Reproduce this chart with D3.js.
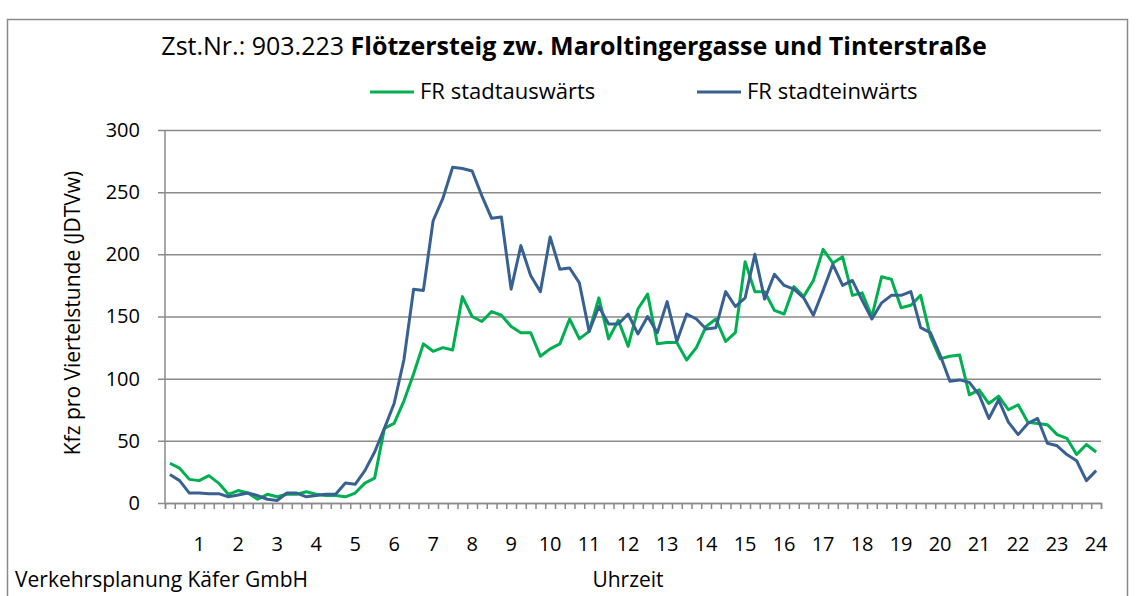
<!DOCTYPE html>
<html>
<head>
<meta charset="utf-8">
<script src="https://cdn.jsdelivr.net/npm/d3@7"></script>
<style>
  body { margin: 0; background: #fff; }
  svg { display: block; font-family: "Open Sans", sans-serif; }
</style>
</head>
<body>
<div id="chart"></div>
<script>
// quarter hours 1..96, labelled with the full hour every 4th slot
const hourLabels = d3.range(1, 25).map(String);
const yTicks = [0, 50, 100, 150, 200, 250, 300];

const stadtauswaerts = [
  32, 28, 19, 18, 22, 16, 7, 10, 8, 3,
  7, 5, 7, 7, 9, 7, 6, 6, 5, 8,
  16, 20, 60, 64, 82, 104, 128, 122, 125, 123,
  166, 150, 146, 154, 151, 142, 137, 137, 118, 124,
  128, 148, 132, 138, 165, 132, 147, 126, 156, 168,
  128, 129, 129, 115, 125, 142, 148, 130, 137, 194,
  170, 170, 155, 152, 174, 166, 179, 204, 193, 198,
  167, 169, 150, 182, 180, 157, 159, 167, 134, 116,
  118, 119, 87, 91, 80, 86, 75, 79, 65, 64,
  63, 55, 52, 39, 47, 41
];
const stadteinwaerts = [
  23, 18, 8, 8, 7.5, 7.5, 5, 6.5, 8, 6,
  3, 2, 8, 8, 5, 6, 7, 7, 16, 15,
  26, 41, 60, 80, 115, 172, 171, 227, 245, 270,
  269, 267, 247, 229, 230, 172, 207, 183, 170, 214,
  188, 189, 177, 138, 158, 144, 144, 152, 136, 150,
  137, 162, 130, 152, 148, 140, 141, 170, 158, 165,
  200, 164, 184, 175, 172, 165, 151, 171, 192, 175,
  179, 163, 148, 161, 167, 167, 170, 141, 137, 119,
  98, 99, 97, 87, 68, 83, 65, 55, 64, 68,
  48, 46, 39, 34, 18, 26
];

const series = [
  { name: 'FR stadtauswärts', values: stadtauswaerts, color: '#00B050' },
  { name: 'FR stadteinwärts', values: stadteinwaerts, color: '#386192' }
];

const width = 1139, height = 596;
const plot = { left: 165, right: 1101, top: 130, bottom: 503 };
const grey = '#8a8a8a';

const svg = d3.select('#chart').append('svg')
  .attr('width', width)
  .attr('height', height);

// outer frame of the chart object
svg.append('rect')
  .attr('x', 7.5).attr('y', 19.5)
  .attr('width', 1120).attr('height', 600)
  .attr('fill', 'none')
  .attr('stroke', grey)
  .attr('stroke-width', 1.5);

const x = d3.scaleLinear().domain([0, stadtauswaerts.length]).range([plot.left, plot.right]);
const y = d3.scaleLinear().domain([0, 300]).range([plot.bottom, plot.top]);

// gridlines + y labels
const yAxis = d3.axisLeft(y)
  .tickValues(yTicks)
  .tickSize(plot.right - plot.left + 7)
  .tickPadding(18);
svg.append('g')
  .attr('transform', `translate(${plot.right},0)`)
  .call(yAxis)
  .call(g => g.select('.domain').remove())
  .call(g => g.selectAll('line').attr('stroke', grey).attr('stroke-width', 1.5))
  .call(g => g.selectAll('text').attr('font-size', 20).attr('font-family', '"Open Sans", sans-serif').attr('fill', '#000'));

// y axis line
svg.append('line')
  .attr('x1', plot.left).attr('x2', plot.left)
  .attr('y1', plot.top).attr('y2', plot.bottom)
  .attr('stroke', grey).attr('stroke-width', 1.5);

// x axis: a small tick between every quarter hour
const xAxis = d3.axisBottom(x)
  .tickValues(d3.range(0, stadtauswaerts.length + 1))
  .tickSize(6)
  .tickFormat('');
svg.append('g')
  .attr('transform', `translate(0,${plot.bottom})`)
  .call(xAxis)
  .call(g => g.select('.domain').attr('stroke', grey).attr('stroke-width', 1.5))
  .call(g => g.selectAll('line').attr('stroke', grey).attr('stroke-width', 1.5));

// hour labels under the 4th, 8th, ... quarter hour
svg.append('g').selectAll('text')
  .data(hourLabels)
  .join('text')
  .attr('x', (d, i) => x(i * 4 + 3.5))
  .attr('y', 551)
  .attr('text-anchor', 'middle')
  .attr('font-size', 20)
  .text(d => d);

// lines
const line = d3.line()
  .x((d, i) => x(i + 0.5))
  .y(d => y(d));

svg.append('g').selectAll('path')
  .data(series)
  .join('path')
  .attr('d', d => line(d.values))
  .attr('fill', 'none')
  .attr('stroke', d => d.color)
  .attr('stroke-width', 3)
  .attr('stroke-linejoin', 'round');

// title
const title = svg.append('text')
  .attr('x', 574)
  .attr('y', 55)
  .attr('text-anchor', 'middle')
  .attr('font-size', 25);
title.append('tspan').text('Zst.Nr.: 903.223 ');
title.append('tspan').attr('font-weight', 'bold').text('Flötzersteig zw. Maroltingergasse und Tinterstraße');

// legend
const legendX = [370, 697];
const legend = svg.append('g').selectAll('g')
  .data(series)
  .join('g')
  .attr('transform', (d, i) => `translate(${legendX[i]},92)`);
legend.append('line')
  .attr('x1', 0).attr('x2', 44)
  .attr('stroke', d => d.color)
  .attr('stroke-width', 3);
legend.append('text')
  .attr('x', 50)
  .attr('y', 7)
  .attr('font-size', 22)
  .text(d => d.name);

// axis titles
svg.append('text')
  .attr('transform', 'translate(80,313) rotate(-90)')
  .attr('text-anchor', 'middle')
  .attr('font-size', 21)
  .text('Kfz pro Viertelstunde (JDTVw)');

svg.append('text')
  .attr('x', 628)
  .attr('y', 587)
  .attr('text-anchor', 'middle')
  .attr('font-size', 21)
  .text('Uhrzeit');

svg.append('text')
  .attr('x', 15)
  .attr('y', 587)
  .attr('font-size', 21)
  .text('Verkehrsplanung Käfer GmbH');
</script>
</body>
</html>
